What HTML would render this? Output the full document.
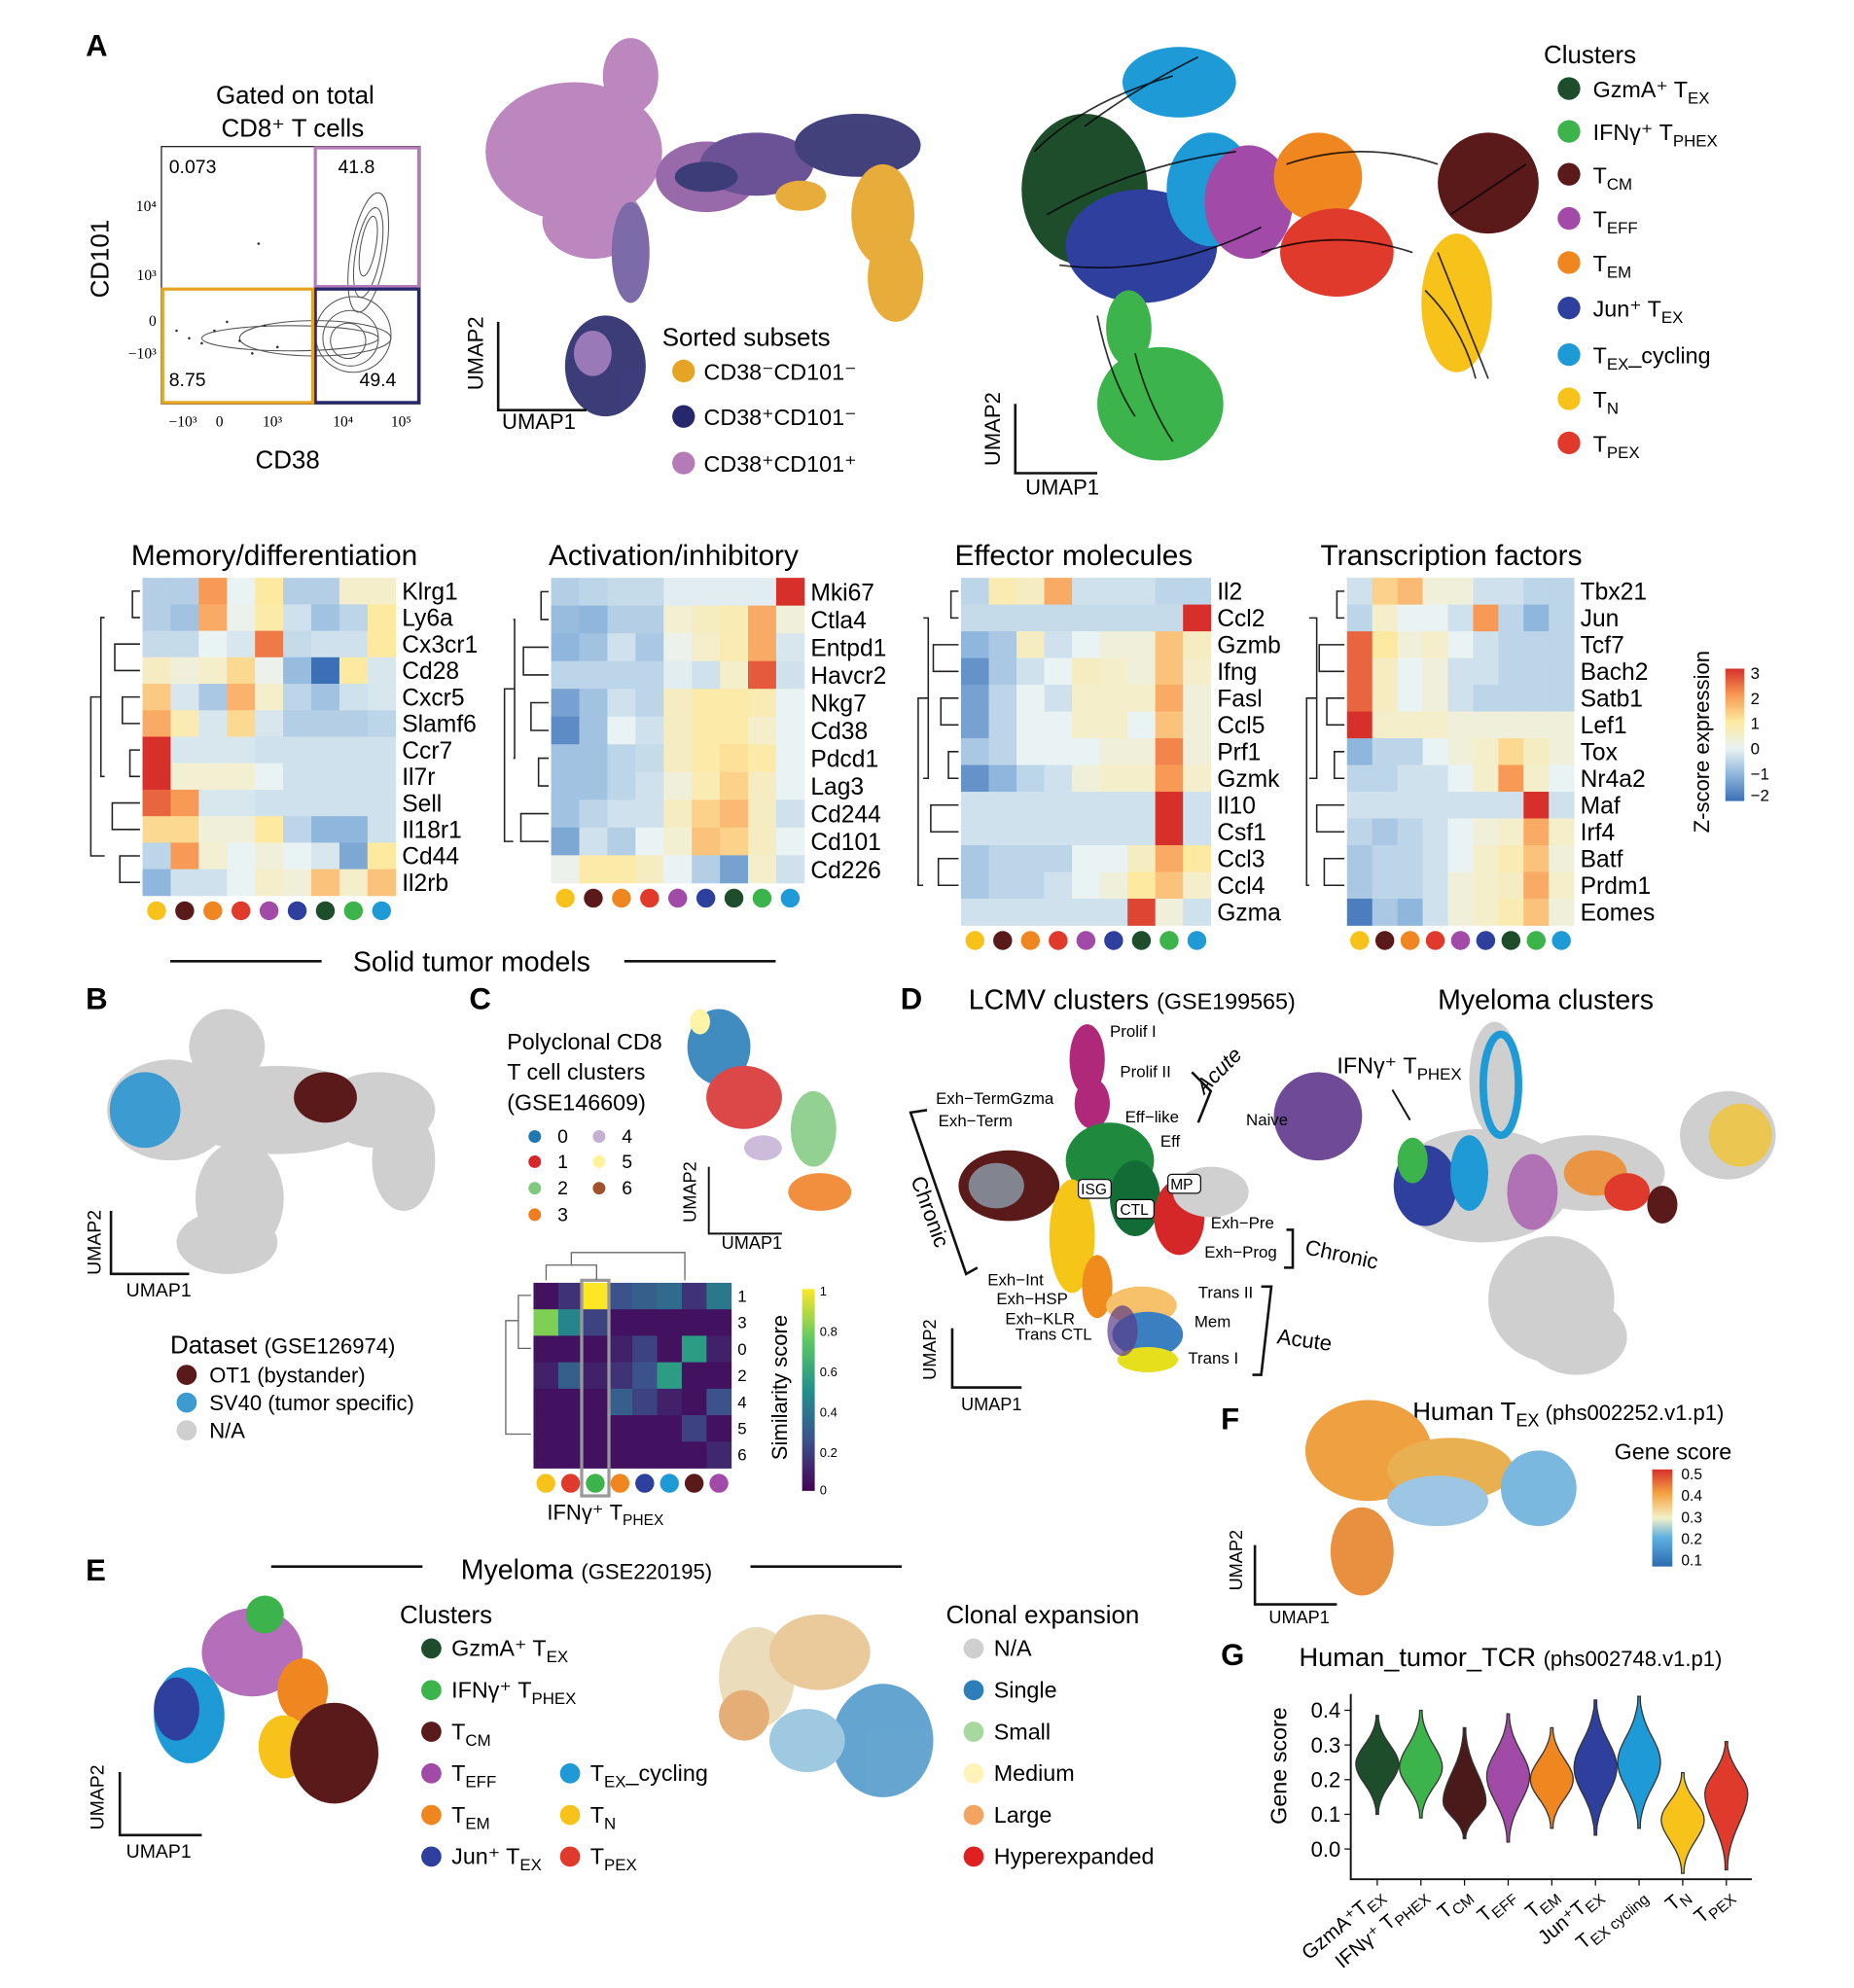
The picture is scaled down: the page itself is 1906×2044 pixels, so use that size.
<!DOCTYPE html>
<html><head><meta charset="utf-8">
<style>
html,body{margin:0;padding:0;background:#fff;}
svg{display:block;font-family:"Liberation Sans",Arial,sans-serif;}
</style></head>
<body>
<svg id="fig" width="1906" height="2044" viewBox="0 0 1470 1576" xmlns="http://www.w3.org/2000/svg">
<rect width="1470" height="1576" fill="#fff"/>

<g>
<text x="68" y="44" font-size="24" font-weight="bold">A</text>
<text x="234" y="82" font-size="20" text-anchor="middle">Gated on total</text>
<text x="232" y="108" font-size="20" text-anchor="middle">CD8⁺ T cells</text>
<rect x="128" y="116" width="205" height="204" fill="none" stroke="#222" stroke-width="1"/>
<g fill="none" stroke="#555" stroke-width="0.8">
<ellipse cx="292" cy="200" rx="14" ry="48" transform="rotate(10 292 200)"/>
<ellipse cx="292" cy="200" rx="10" ry="36" transform="rotate(10 292 200)"/>
<ellipse cx="292" cy="195" rx="6" ry="24" transform="rotate(10 292 195)"/>
<ellipse cx="280" cy="265" rx="30" ry="30"/>
<ellipse cx="278" cy="268" rx="22" ry="22"/>
<ellipse cx="276" cy="270" rx="14" ry="14"/>
<ellipse cx="250" cy="268" rx="60" ry="14"/>
<ellipse cx="230" cy="268" rx="70" ry="10"/>
</g>
<g fill="#333"><circle cx="170" cy="262" r="1"/><circle cx="190" cy="270" r="1"/><circle cx="160" cy="272" r="1"/><circle cx="210" cy="258" r="1"/><circle cx="150" cy="268" r="1"/><circle cx="200" cy="280" r="1"/><circle cx="180" cy="255" r="1"/><circle cx="220" cy="275" r="1"/><circle cx="140" cy="262" r="1"/><circle cx="205" cy="193" r="1"/></g>
<rect x="250" y="117" width="82" height="110" fill="none" stroke="#b57ab8" stroke-width="2.5"/>
<rect x="250" y="229" width="82" height="90" fill="none" stroke="#27286b" stroke-width="2.5"/>
<rect x="129" y="229" width="119" height="90" fill="none" stroke="#e6a425" stroke-width="2.5"/>
<text x="134" y="137" font-size="15">0.073</text>
<text x="268" y="137" font-size="15">41.8</text>
<text x="134" y="306" font-size="15">8.75</text>
<text x="285" y="306" font-size="15">49.4</text>
<g font-size="12" font-family="Liberation Serif,serif" text-anchor="end">
<text x="124" y="167">10⁴</text><text x="124" y="222">10³</text><text x="124" y="258">0</text><text x="124" y="284">−10³</text></g>
<g font-size="12" font-family="Liberation Serif,serif" text-anchor="middle">
<text x="145" y="338">−10³</text><text x="174" y="338">0</text><text x="216" y="338">10³</text><text x="272" y="338">10⁴</text><text x="318" y="338">10⁵</text></g>
<text x="228" y="371" font-size="20" text-anchor="middle">CD38</text>
<text transform="translate(86 205) rotate(-90)" font-size="20" text-anchor="middle">CD101</text>
</g>

<g>
<g opacity="0.9">
<ellipse cx="455" cy="120" rx="70" ry="55" fill="#b57ab8"/>
<ellipse cx="500" cy="60" rx="22" ry="30" fill="#b57ab8"/>
<ellipse cx="470" cy="175" rx="40" ry="30" fill="#b57ab8"/>
<ellipse cx="560" cy="140" rx="40" ry="28" fill="#8e5aa0"/>
<ellipse cx="600" cy="130" rx="45" ry="25" fill="#5b3f8a"/>
<ellipse cx="680" cy="115" rx="50" ry="25" fill="#2e2d6e"/>
<ellipse cx="560" cy="140" rx="25" ry="12" fill="#27286b"/>
<ellipse cx="700" cy="170" rx="25" ry="40" fill="#e6a425"/>
<ellipse cx="710" cy="220" rx="22" ry="35" fill="#e6a425"/>
<ellipse cx="635" cy="155" rx="20" ry="12" fill="#e6a425"/>
<ellipse cx="500" cy="200" rx="15" ry="40" fill="#6e5aa0"/>
<ellipse cx="480" cy="290" rx="32" ry="40" fill="#27286b"/>
<ellipse cx="470" cy="280" rx="15" ry="18" fill="#8e6bb0"/>
</g>
<path d="M395 255 V325 H465" fill="none" stroke="#111" stroke-width="2"/>
<text transform="translate(383 280) rotate(-90)" font-size="17" text-anchor="middle">UMAP2</text>
<text x="398" y="340" font-size="17">UMAP1</text>
<text x="525" y="274" font-size="20">Sorted subsets</text>
<circle cx="542" cy="294" r="9" fill="#e6a425"/><text x="558" y="301" font-size="18">CD38⁻CD101⁻</text>
<circle cx="542" cy="330" r="9" fill="#27286b"/><text x="558" y="337" font-size="18">CD38⁺CD101⁻</text>
<circle cx="542" cy="367" r="9" fill="#b57ab8"/><text x="558" y="374" font-size="18">CD38⁺CD101⁺</text>
</g>

<g>
<ellipse cx="935" cy="65" rx="45" ry="28" fill="#1e9bd7"/>
<ellipse cx="860" cy="150" rx="50" ry="60" fill="#1e4d2b"/>
<ellipse cx="905" cy="195" rx="60" ry="45" fill="#2e3f9e"/>
<ellipse cx="960" cy="150" rx="35" ry="45" fill="#1e9bd7"/>
<ellipse cx="990" cy="160" rx="35" ry="45" fill="#a24aa8"/>
<ellipse cx="1045" cy="140" rx="35" ry="35" fill="#f0861f"/>
<ellipse cx="1060" cy="200" rx="45" ry="35" fill="#e03a2c"/>
<ellipse cx="1180" cy="145" rx="40" ry="40" fill="#5a1a1a"/>
<ellipse cx="1155" cy="240" rx="28" ry="55" fill="#f7c31b"/>
<ellipse cx="920" cy="320" rx="50" ry="45" fill="#3cb44b"/>
<ellipse cx="895" cy="260" rx="18" ry="30" fill="#3cb44b"/>
<g fill="none" stroke="#000" stroke-width="1.3" opacity="0.8">
<path d="M820 120 Q860 80 930 60"/><path d="M830 170 Q900 130 980 120"/><path d="M840 210 Q920 220 1000 180"/>
<path d="M1020 130 Q1080 110 1140 130"/><path d="M1150 170 Q1180 150 1210 130"/><path d="M1140 200 Q1160 250 1180 300"/>
<path d="M1000 200 Q1060 180 1120 200"/><path d="M900 280 Q910 320 930 350"/><path d="M870 250 Q880 300 900 330"/>
<path d="M860 100 Q900 70 950 45"/><path d="M1130 230 Q1160 260 1170 300"/></g>
<path d="M805 320 V375 H870" fill="none" stroke="#111" stroke-width="2"/>
<text transform="translate(793 340) rotate(-90)" font-size="17" text-anchor="middle">UMAP2</text>
<text x="813" y="392" font-size="17">UMAP1</text>
</g>
<g font-size="18">
<text x="1224" y="50" font-size="20">Clusters</text>
<circle cx="1244" cy="70" r="9" fill="#1e4d2b"/><text x="1263" y="77">GzmA⁺ T<tspan font-size="13" dy="5">EX</tspan></text>
<circle cx="1244" cy="104" r="9" fill="#3cb44b"/><text x="1263" y="111">IFNγ⁺ T<tspan font-size="13" dy="5">PHEX</tspan></text>
<circle cx="1244" cy="138" r="9" fill="#5a1a1a"/><text x="1263" y="145">T<tspan font-size="13" dy="5">CM</tspan></text>
<circle cx="1244" cy="173" r="9" fill="#a24aa8"/><text x="1263" y="180">T<tspan font-size="13" dy="5">EFF</tspan></text>
<circle cx="1244" cy="208" r="9" fill="#f0861f"/><text x="1263" y="215">T<tspan font-size="13" dy="5">EM</tspan></text>
<circle cx="1244" cy="244" r="9" fill="#2e3f9e"/><text x="1263" y="251">Jun⁺ T<tspan font-size="13" dy="5">EX</tspan></text>
<circle cx="1244" cy="281" r="9" fill="#1e9bd7"/><text x="1263" y="288">T<tspan font-size="13" dy="5">EX</tspan><tspan dy="-5">_cycling</tspan></text>
<circle cx="1244" cy="316" r="9" fill="#f7c31b"/><text x="1263" y="323">T<tspan font-size="13" dy="5">N</tspan></text>
<circle cx="1244" cy="351" r="9" fill="#e03a2c"/><text x="1263" y="358">T<tspan font-size="13" dy="5">PEX</tspan></text>
</g>

<g id="heatmaps"></g>

<defs>
<linearGradient id="zgrad" x1="0" y1="1" x2="0" y2="0">
<stop offset="0" stop-color="#3b6fb6"/><stop offset="0.2" stop-color="#8fb6dc"/><stop offset="0.4" stop-color="#eaf3f3"/><stop offset="0.6" stop-color="#fde9a0"/><stop offset="0.8" stop-color="#f89a55"/><stop offset="1" stop-color="#d7302a"/></linearGradient>
<linearGradient id="sgrad" x1="0" y1="1" x2="0" y2="0">
<stop offset="0" stop-color="#440154"/><stop offset="0.25" stop-color="#3b528b"/><stop offset="0.5" stop-color="#21918c"/><stop offset="0.75" stop-color="#5ec962"/><stop offset="1" stop-color="#fde725"/></linearGradient>
<linearGradient id="ggrad" x1="0" y1="1" x2="0" y2="0">
<stop offset="0" stop-color="#2c6ab0"/><stop offset="0.3" stop-color="#5fb0e0"/><stop offset="0.5" stop-color="#f3f1c6"/><stop offset="0.75" stop-color="#f4a442"/><stop offset="1" stop-color="#d7302a"/></linearGradient>
</defs>
<g>
<rect x="1368" y="530" width="15" height="105" fill="url(#zgrad)"/>
<g font-size="13"><text x="1388" y="538">3</text><text x="1388" y="558">2</text><text x="1388" y="578">1</text><text x="1388" y="598">0</text><text x="1388" y="618">−1</text><text x="1388" y="635">−2</text></g>
<text transform="translate(1355 588) rotate(-90)" font-size="17" text-anchor="middle">Z-score expression</text>
</g>

<text x="374" y="770" font-size="22" text-anchor="middle">Solid tumor models</text>
<line x1="135" y1="762" x2="255" y2="762" stroke="#111" stroke-width="2"/>
<line x1="495" y1="762" x2="615" y2="762" stroke="#111" stroke-width="2"/>

<g>
<text x="68" y="800" font-size="24" font-weight="bold">B</text>
<g fill="#cfcfcf">
<ellipse cx="135" cy="880" rx="50" ry="40"/><ellipse cx="180" cy="830" rx="30" ry="30"/><ellipse cx="220" cy="880" rx="80" ry="35"/>
<ellipse cx="300" cy="880" rx="45" ry="30"/><ellipse cx="320" cy="920" rx="25" ry="40"/><ellipse cx="190" cy="950" rx="35" ry="45"/><ellipse cx="180" cy="985" rx="40" ry="25"/></g>
<ellipse cx="115" cy="880" rx="28" ry="30" fill="#3c9bd0"/>
<ellipse cx="258" cy="870" rx="25" ry="20" fill="#5a1a1a"/>
<path d="M88 960 V1010 H150" fill="none" stroke="#111" stroke-width="2"/>
<text transform="translate(80 985) rotate(-90)" font-size="15" text-anchor="middle">UMAP2</text>
<text x="100" y="1028" font-size="15">UMAP1</text>
<text x="135" y="1073" font-size="20">Dataset <tspan font-size="17">(GSE126974)</tspan></text>
<circle cx="148" cy="1090" r="8" fill="#5a1a1a"/><text x="166" y="1096" font-size="17">OT1 (bystander)</text>
<circle cx="148" cy="1112" r="8" fill="#3c9bd0"/><text x="166" y="1118" font-size="17">SV40 (tumor specific)</text>
<circle cx="148" cy="1134" r="8" fill="#cfcfcf"/><text x="166" y="1140" font-size="17">N/A</text>
</g>

<g>
<text x="372" y="800" font-size="24" font-weight="bold">C</text>
<text x="402" y="832" font-size="18">Polyclonal CD8</text>
<text x="402" y="856" font-size="18">T cell clusters</text>
<text x="402" y="880" font-size="18">(GSE146609)</text>
<g font-size="15">
<circle cx="424" cy="901" r="5" fill="#1f77b4"/><text x="442" y="906">0</text>
<circle cx="424" cy="921" r="5" fill="#d62728"/><text x="442" y="926">1</text>
<circle cx="424" cy="942" r="5" fill="#7fc97f"/><text x="442" y="947">2</text>
<circle cx="424" cy="963" r="5" fill="#f07c1e"/><text x="442" y="968">3</text>
<circle cx="475" cy="901" r="5" fill="#c5b0d5"/><text x="493" y="906">4</text>
<circle cx="475" cy="921" r="5" fill="#fff29a"/><text x="493" y="926">5</text>
<circle cx="475" cy="942" r="5" fill="#a0522d"/><text x="493" y="947">6</text></g>
<g opacity="0.85">
<ellipse cx="570" cy="830" rx="25" ry="30" fill="#1f77b4"/><ellipse cx="590" cy="870" rx="30" ry="25" fill="#d62728"/>
<ellipse cx="645" cy="895" rx="18" ry="30" fill="#7fc97f"/><ellipse cx="650" cy="945" rx="25" ry="15" fill="#f07c1e"/>
<ellipse cx="605" cy="910" rx="15" ry="10" fill="#c5b0d5"/><ellipse cx="555" cy="810" rx="8" ry="10" fill="#fff29a"/></g>
<path d="M562 925 V978 H620" fill="none" stroke="#111" stroke-width="1.5"/>
<text transform="translate(552 945) rotate(-90)" font-size="14" text-anchor="middle">UMAP2</text>
<text x="572" y="990" font-size="14">UMAP1</text>
<g id="simheat"></g>
<text x="480" y="1205" font-size="17" text-anchor="middle">IFNγ⁺ T<tspan font-size="12" dy="4">PHEX</tspan></text>
<rect x="636" y="1022" width="10" height="160" fill="url(#sgrad)"/>
<g font-size="10"><text x="650" y="1027">1</text><text x="650" y="1059">0.8</text><text x="650" y="1091">0.6</text><text x="650" y="1123">0.4</text><text x="650" y="1155">0.2</text><text x="650" y="1185">0</text></g>
<text transform="translate(624 1100) rotate(-90)" font-size="17" text-anchor="middle">Similarity score</text>
</g>

<g>
<text x="714" y="800" font-size="24" font-weight="bold">D</text>
<text x="768" y="800" font-size="22">LCMV clusters <tspan font-size="18">(GSE199565)</tspan></text>
<text x="1140" y="800" font-size="22">Myeloma clusters</text>
<ellipse cx="862" cy="840" rx="14" ry="28" fill="#b0287a"/>
<ellipse cx="866" cy="875" rx="14" ry="20" fill="#b0287a"/>
<ellipse cx="800" cy="940" rx="40" ry="28" fill="#5a1a1a"/>
<ellipse cx="790" cy="940" rx="22" ry="18" fill="#9ccde0" opacity="0.6"/>
<ellipse cx="880" cy="920" rx="35" ry="30" fill="#1f8a3e"/>
<ellipse cx="900" cy="950" rx="20" ry="30" fill="#116d35"/>
<ellipse cx="850" cy="980" rx="18" ry="45" fill="#f5c518"/>
<ellipse cx="870" cy="1020" rx="12" ry="25" fill="#f08c1e"/>
<ellipse cx="935" cy="965" rx="20" ry="30" fill="#d62728"/>
<ellipse cx="960" cy="945" rx="30" ry="20" fill="#d0d0d0"/>
<ellipse cx="1045" cy="885" rx="35" ry="35" fill="#6f4a96"/>
<ellipse cx="905" cy="1035" rx="28" ry="15" fill="#f7c06a"/>
<ellipse cx="910" cy="1058" rx="28" ry="18" fill="#3a7fbf"/>
<ellipse cx="910" cy="1078" rx="24" ry="10" fill="#e6e01c"/>
<ellipse cx="890" cy="1055" rx="12" ry="20" fill="#5a3a8a" opacity="0.7"/>
<g font-size="13">
<text x="880" y="822">Prolif I</text><text x="888" y="854">Prolif II</text>
<text x="742" y="875">Exh−TermGzma</text><text x="744" y="893">Exh−Term</text>
<text x="892" y="890">Eff−like</text><text x="920" y="909">Eff</text><text x="988" y="892">Naive</text>
<text x="960" y="974">Exh−Pre</text><text x="955" y="997">Exh−Prog</text>
<text x="783" y="1019">Exh−Int</text><text x="790" y="1034">Exh−HSP</text><text x="797" y="1050">Exh−KLR</text>
<text x="950" y="1029">Trans II</text><text x="947" y="1052">Mem</text><text x="805" y="1062">Trans CTL</text><text x="942" y="1081">Trans I</text>
</g>
<g font-size="12" fill="#fff" stroke="#111">
<rect x="855" y="935" width="26" height="15" rx="3"/><rect x="885" y="951" width="30" height="15" rx="3"/><rect x="926" y="931" width="26" height="15" rx="3"/></g>
<g font-size="12"><text x="857" y="947">ISG</text><text x="888" y="963">CTL</text><text x="928" y="943">MP</text></g>
<text transform="translate(955 868) rotate(-45)" font-size="17" font-style="italic">Acute</text>
<text transform="translate(722 935) rotate(70)" font-size="17">Chronic</text>
<text transform="translate(1034 994) rotate(12)" font-size="17">Chronic</text>
<text transform="translate(1012 1065) rotate(8)" font-size="17">Acute</text>
<g fill="none" stroke="#111" stroke-width="2">
<path d="M945 850 L960 865 L950 890"/><path d="M735 880 L722 882 L766 1010 L775 1005"/>
<path d="M1020 975 H1025 V1005 H1018"/><path d="M1000 1020 H1008 L1000 1090 H993"/>
<path d="M755 1053 V1100 H810"/></g>
<text transform="translate(742 1070) rotate(-90)" font-size="14" text-anchor="middle">UMAP2</text>
<text x="762" y="1118" font-size="14">UMAP1</text>
<g fill="#cfcfcf">
<ellipse cx="1185" cy="855" rx="20" ry="45"/><ellipse cx="1175" cy="940" rx="70" ry="45"/><ellipse cx="1260" cy="930" rx="60" ry="30"/>
<ellipse cx="1370" cy="900" rx="38" ry="35"/><ellipse cx="1230" cy="1030" rx="50" ry="50"/><ellipse cx="1250" cy="1060" rx="40" ry="30"/></g>
<ellipse cx="1190" cy="860" rx="14" ry="40" fill="none" stroke="#1e9bd7" stroke-width="6"/>
<ellipse cx="1130" cy="940" rx="25" ry="32" fill="#2e3f9e"/>
<ellipse cx="1120" cy="920" rx="12" ry="18" fill="#3cb44b"/>
<ellipse cx="1165" cy="930" rx="15" ry="30" fill="#1e9bd7"/>
<ellipse cx="1215" cy="945" rx="20" ry="30" fill="#a24aa8" opacity="0.7"/>
<ellipse cx="1265" cy="930" rx="25" ry="18" fill="#f0861f" opacity="0.8"/>
<ellipse cx="1290" cy="945" rx="18" ry="15" fill="#e03a2c"/>
<ellipse cx="1318" cy="955" rx="12" ry="15" fill="#5a1a1a"/>
<ellipse cx="1380" cy="900" rx="25" ry="25" fill="#f7c31b" opacity="0.7"/>
<text x="1060" y="851" font-size="18">IFNγ⁺ T<tspan font-size="13" dy="5">PHEX</tspan></text>
<line x1="1104" y1="864" x2="1118" y2="888" stroke="#111" stroke-width="1.5"/>
</g>

<g>
<text x="68" y="1253" font-size="24" font-weight="bold">E</text>
<text x="465" y="1252" font-size="22" text-anchor="middle">Myeloma <tspan font-size="17">(GSE220195)</tspan></text>
<line x1="215" y1="1242" x2="335" y2="1242" stroke="#111" stroke-width="2"/>
<line x1="595" y1="1242" x2="715" y2="1242" stroke="#111" stroke-width="2"/>
<ellipse cx="150" cy="1360" rx="28" ry="38" fill="#1e9bd7"/>
<ellipse cx="140" cy="1355" rx="18" ry="25" fill="#2e3f9e"/>
<ellipse cx="200" cy="1310" rx="40" ry="35" fill="#a24aa8" opacity="0.8"/>
<ellipse cx="210" cy="1280" rx="15" ry="15" fill="#3cb44b"/>
<ellipse cx="240" cy="1340" rx="20" ry="25" fill="#f0861f"/>
<ellipse cx="225" cy="1385" rx="20" ry="25" fill="#f7c31b"/>
<ellipse cx="265" cy="1390" rx="35" ry="40" fill="#5a1a1a"/>
<path d="M95 1405 V1455 H160" fill="none" stroke="#111" stroke-width="2"/>
<text transform="translate(82 1425) rotate(-90)" font-size="15" text-anchor="middle">UMAP2</text>
<text x="100" y="1473" font-size="15">UMAP1</text>
<g font-size="18">
<text x="317" y="1287" font-size="20">Clusters</text>
<circle cx="342" cy="1307" r="8" fill="#1e4d2b"/><text x="358" y="1313">GzmA⁺ T<tspan font-size="13" dy="5">EX</tspan></text>
<circle cx="342" cy="1340" r="8" fill="#3cb44b"/><text x="358" y="1346">IFNγ⁺ T<tspan font-size="13" dy="5">PHEX</tspan></text>
<circle cx="342" cy="1373" r="8" fill="#5a1a1a"/><text x="358" y="1379">T<tspan font-size="13" dy="5">CM</tspan></text>
<circle cx="342" cy="1406" r="8" fill="#a24aa8"/><text x="358" y="1412">T<tspan font-size="13" dy="5">EFF</tspan></text>
<circle cx="342" cy="1439" r="8" fill="#f0861f"/><text x="358" y="1445">T<tspan font-size="13" dy="5">EM</tspan></text>
<circle cx="342" cy="1472" r="8" fill="#2e3f9e"/><text x="358" y="1478">Jun⁺ T<tspan font-size="13" dy="5">EX</tspan></text>
<circle cx="452" cy="1406" r="8" fill="#1e9bd7"/><text x="468" y="1412">T<tspan font-size="13" dy="5">EX</tspan><tspan dy="-5">_cycling</tspan></text>
<circle cx="452" cy="1439" r="8" fill="#f7c31b"/><text x="468" y="1445">T<tspan font-size="13" dy="5">N</tspan></text>
<circle cx="452" cy="1472" r="8" fill="#e03a2c"/><text x="468" y="1478">T<tspan font-size="13" dy="5">PEX</tspan></text>
</g>
<g opacity="0.85">
<ellipse cx="600" cy="1330" rx="30" ry="40" fill="#e8d8b0"/><ellipse cx="650" cy="1310" rx="40" ry="30" fill="#e7c08a"/>
<ellipse cx="700" cy="1380" rx="40" ry="45" fill="#4a95c8"/><ellipse cx="640" cy="1380" rx="30" ry="25" fill="#8ec0dc"/>
<ellipse cx="590" cy="1360" rx="20" ry="20" fill="#e2a060"/></g>
<g font-size="18">
<text x="750" y="1287" font-size="20">Clonal expansion</text>
<circle cx="772" cy="1307" r="8" fill="#cfcfcf"/><text x="788" y="1313">N/A</text>
<circle cx="772" cy="1340" r="8" fill="#2c7fb8"/><text x="788" y="1346">Single</text>
<circle cx="772" cy="1373" r="8" fill="#a6d8a0"/><text x="788" y="1379">Small</text>
<circle cx="772" cy="1406" r="8" fill="#fff3b8"/><text x="788" y="1412">Medium</text>
<circle cx="772" cy="1439" r="8" fill="#f4a460"/><text x="788" y="1445">Large</text>
<circle cx="772" cy="1472" r="8" fill="#e02020"/><text x="788" y="1478">Hyperexpanded</text>
</g>
</g>

<g>
<text x="968" y="1133" font-size="24" font-weight="bold">F</text>
<text x="1120" y="1126" font-size="20">Human T<tspan font-size="14" dy="5">EX</tspan><tspan dy="-5" font-size="17"> (phs002252.v1.p1)</tspan></text>
<ellipse cx="1085" cy="1150" rx="50" ry="40" fill="#efa040"/>
<ellipse cx="1150" cy="1165" rx="50" ry="25" fill="#e8b050"/>
<ellipse cx="1220" cy="1180" rx="30" ry="30" fill="#7ab8e0"/>
<ellipse cx="1140" cy="1190" rx="40" ry="20" fill="#9cc6e4"/>
<ellipse cx="1080" cy="1230" rx="25" ry="35" fill="#e89040"/>
<text x="1280" y="1157" font-size="18">Gene score</text>
<rect x="1310" y="1165" width="16" height="77" fill="url(#ggrad)"/>
<g font-size="12"><text x="1333" y="1173">0.5</text><text x="1333" y="1190">0.4</text><text x="1333" y="1207">0.3</text><text x="1333" y="1224">0.2</text><text x="1333" y="1241">0.1</text></g>
<path d="M995 1225 V1272 H1060" fill="none" stroke="#111" stroke-width="2"/>
<text transform="translate(985 1237) rotate(-90)" font-size="14" text-anchor="middle">UMAP2</text>
<text x="1006" y="1287" font-size="14">UMAP1</text>
</g>

<g id="violin">
<text x="968" y="1320" font-size="24" font-weight="bold">G</text>
<text x="1030" y="1321" font-size="21">Human_tumor_TCR <tspan font-size="17">(phs002748.v1.p1)</tspan></text>
<text transform="translate(1020 1400) rotate(-90)" font-size="18" text-anchor="middle">Gene score</text>
</g>
</svg>

<script>
const colColors=["#f7c31b","#5a1a1a","#f0861f","#e03a2c","#a24aa8","#2e3f9e","#1e4d2b","#3cb44b","#1e9bd7"];
const memGenes=["Klrg1","Ly6a","Cx3cr1","Cd28","Cxcr5","Slamf6","Ccr7","Il7r","Sell","Il18r1","Cd44","Il2rb"];
const memVals=[[-0.6,-0.6,2,0,1,-0.6,-0.6,0.5,0.5],[-0.6,-0.8,1.8,0.1,0.9,-0.3,-0.8,-0.5,1],[-0.4,-0.4,0,-0.2,2.3,-0.4,-0.3,-0.3,1],[0.6,0.3,0.5,1.2,0.1,-0.9,-2,1,-0.2],[1.4,-0.2,-0.7,1.7,0.5,-0.5,-0.8,-0.3,-0.2],[1.8,0.8,-0.2,1.2,-0.2,-0.6,-0.6,-0.6,-0.5],[3,-0.2,-0.2,-0.2,-0.3,-0.3,-0.3,-0.3,-0.3],[3,0.4,0.4,0.4,0,-0.3,-0.3,-0.3,-0.3],[2.5,2,-0.2,-0.2,-0.3,-0.3,-0.3,-0.3,-0.3],[1.2,1.2,0.3,0.3,1,-0.5,-1,-1,-0.3],[-0.5,2,0.4,0,0.3,0,-0.2,-1.2,1],[-1,-0.3,-0.3,0,0.5,0.3,1.5,0.5,1.5]];
const actGenes=["Mki67","Ctla4","Entpd1","Havcr2","Nkg7","Cd38","Pdcd1","Lag3","Cd244","Cd101","Cd226"];
const actVals=[[-0.6,-0.5,-0.4,-0.4,-0.1,-0.1,-0.1,-0.1,3],[-0.9,-1,-0.6,-0.6,0.4,0.6,0.8,1.8,0.3],[-1,-0.8,-0.3,-0.7,0.1,0.5,0.8,1.8,-0.2],[-0.5,-0.5,-0.5,-0.5,-0.1,-0.3,0.5,2.6,-0.3],[-1.3,-0.8,-0.3,-0.5,0.6,0.9,0.9,0.8,0],[-1.6,-0.8,0,-0.3,0.6,0.9,0.9,0.5,0],[-0.8,-0.8,-0.5,-0.4,0.6,0.9,1.1,0.9,0],[-0.8,-0.8,-0.5,-0.3,0.3,0.8,1.3,0.6,0],[-0.8,-0.5,-0.3,-0.3,0.6,1.3,1.6,0.6,-0.3],[-1.2,-0.3,-0.6,0,0.4,1.5,1.3,0.6,0],[0.1,0.9,0.9,0.6,0,-0.6,-1.3,0.5,-0.3]];
const effGenes=["Il2","Ccl2","Gzmb","Ifng","Fasl","Ccl5","Prf1","Gzmk","Il10","Csf1","Ccl3","Ccl4","Gzma"];
const effVals=[[-0.5,0.8,0.6,1.8,-0.3,-0.3,-0.3,-0.5,-0.5],[-0.4,-0.4,-0.4,-0.4,-0.4,-0.4,-0.4,-0.4,3],[-1,-0.7,0.6,-0.3,0,0.3,0.3,1.5,0.6],[-1.5,-0.7,-0.3,0,0.6,0.5,0.3,1.5,0.5],[-1.3,-0.5,0,-0.3,0.5,0.5,0.5,1.8,0.3],[-1.3,-0.5,0,0,0.5,0.5,0,1.5,0.3],[-0.7,-0.5,0,0,0,0.3,0.3,2.2,0.3],[-1.5,-1,-0.5,-0.3,0.3,0.5,0.5,2,0.5],[-0.3,-0.3,-0.3,-0.3,-0.3,-0.3,-0.3,3,-0.3],[-0.3,-0.3,-0.3,-0.3,-0.3,-0.3,-0.3,3,-0.3],[-0.7,-0.5,-0.5,-0.5,0,0,0.6,1.8,1],[-0.7,-0.5,-0.5,-0.3,0,0.3,1,1.5,0.5],[-0.3,-0.3,-0.3,-0.3,-0.3,-0.3,2.8,0.3,-0.3]];
const tfGenes=["Tbx21","Jun","Tcf7","Bach2","Satb1","Lef1","Tox","Nr4a2","Maf","Irf4","Batf","Prdm1","Eomes"];
const tfVals=[[-0.3,1.3,1.6,0.3,0.3,-0.3,-0.3,-0.5,-0.5],[-0.5,0.5,0,0,-0.3,2,-0.5,-1,-0.5],[2.5,1,0.3,0.5,0,-0.3,-0.5,-0.5,-0.5],[2.5,0.6,0,0.3,-0.3,-0.3,-0.5,-0.5,-0.5],[2.5,0.6,0,0.3,-0.3,-0.5,-0.5,-0.5,-0.5],[3,0.5,0.5,0.5,0.3,0.3,0.3,0.3,0.3],[-1,-0.5,-0.5,0,0.3,0.5,1.2,0.6,0.3],[-0.5,-0.5,-0.3,-0.3,0,0.5,2,0.5,0],[-0.3,-0.3,-0.3,-0.3,-0.3,-0.3,-0.3,3,-0.3],[-0.5,-0.7,-0.5,-0.3,0,0.3,0.5,1.8,0.5],[-0.7,-0.5,-0.5,-0.3,0,0.5,0.8,1.5,0.3],[-0.7,-0.5,-0.5,-0.3,0.3,0.5,0.6,1.8,0.5],[-1.8,-0.7,-1,-0.3,0.3,0.5,0.8,1.5,0.3]];
const simRows=["1","3","0","2","4","5","6"];
const simColColors=["#f7c31b","#e03a2c","#3cb44b","#f0861f","#2e3f9e","#1e9bd7","#5a1a1a","#a24aa8"];
const simVals=[[0.05,0.15,1,0.25,0.3,0.35,0.15,0.4],[0.8,0.45,0.2,0.05,0.05,0.05,0.05,0.05],[0.05,0.05,0.05,0.1,0.2,0.05,0.55,0.1],[0.1,0.3,0.1,0.15,0.25,0.55,0.05,0.05],[0.05,0.05,0.05,0.3,0.2,0.1,0.05,0.25],[0.05,0.05,0.05,0.05,0.05,0.05,0.2,0.05],[0.05,0.05,0.05,0.05,0.05,0.05,0.05,0.12]];
const vioLabels=["GzmA⁺T|EX","IFNγ⁺ T|PHEX","T|CM","T|EFF","T|EM","Jun⁺T|EX","T|EX cycling","T|N","T|PEX"];
const vioColors=["#1e4d2b","#3cb44b","#4a1a1a","#a24aa8","#f0861f","#2e3f9e","#1e9bd7","#f7c31b","#e03a2c"];
const vioMedian=[0.245,0.235,0.135,0.21,0.2,0.235,0.25,0.085,0.16];
const vioMin=[0.1,0.09,0.03,0.02,0.06,0.04,0.06,-0.07,-0.06];
const vioMax=[0.385,0.4,0.35,0.39,0.35,0.43,0.44,0.22,0.31];
const vioTicks=[0,0.1,0.2,0.3,0.4];

const NS="http://www.w3.org/2000/svg";
function mk(tag,attrs,parent){const e=document.createElementNS(NS,tag);for(const k in attrs)e.setAttribute(k,attrs[k]);parent.appendChild(e);return e;}
const zstops=[[-2,[59,111,182]],[-1,[143,182,220]],[0,[234,243,243]],[1,[253,233,160]],[2,[248,154,85]],[3,[215,48,42]]];
function zcol(v){v=Math.max(-2,Math.min(3,v));for(let i=0;i<zstops.length-1;i++){const a=zstops[i],b=zstops[i+1];if(v<=b[0]){const t=(v-a[0])/(b[0]-a[0]);return "rgb("+a[1].map((c,j)=>Math.round(c+(b[1][j]-c)*t)).join(",")+")";}}return "rgb(215,48,42)";}
const vstops=[[68,1,84],[59,82,139],[33,145,140],[94,201,98],[253,231,37]];
function vcol(v){v=Math.max(0,Math.min(1,v))*4;const i=Math.min(3,Math.floor(v)),t=v-i,a=vstops[i],b=vstops[i+1];return "rgb("+a.map((c,j)=>Math.round(c+(b[j]-c)*t)).join(",")+")";}

const hg=document.getElementById('heatmaps');
function heat(title,tx,x0,y0,cw,rh,genes,vals,dendX){
  const g=mk('g',{},hg);
  
  
  const tt=mk('text',{x:tx,y:448,'font-size':23},g);tt.textContent=title;
  genes.forEach((gn,r)=>{
    vals[r].forEach((v,c)=>{
      const cell=mk('rect',{x:x0+c*cw,y:y0+r*rh,width:cw+0.3,height:rh+0.3,fill:zcol(v)},g);
      
      
    });
    const lb=mk('text',{x:x0+9*cw+5,y:y0+r*rh+rh*0.82,'font-size':19},g);lb.textContent=gn;
  });
  colColors.forEach((c,i)=>{mk('circle',{cx:x0+i*cw+cw/2,cy:y0+genes.length*rh+12,r:7.5,fill:c},g);});
  const n=genes.length, yc=r=>y0+r*rh+rh/2;
  const dg=mk('g',{fill:'none',stroke:'#222','stroke-width':1.2},g);
  for(let r=0;r<n-1;r+=2){const xm=x0-8-((r*7)%20);mk('path',{d:`M${x0-2} ${yc(r)} H${xm} V${yc(r+1)} H${x0-2}`},dg);}
  const half=Math.floor(n/2);
  mk('path',{d:`M${x0-30} ${yc(1)} H${dendX+8} V${yc(half+1)} H${x0-30}`},dg);
  mk('path',{d:`M${dendX+8} ${(yc(1)+yc(half+1))/2} H${dendX} V${yc(n-2)} H${x0-30}`},dg);
}
heat("Memory/differentiation",104,113,458,22.3,21,memGenes,memVals,72);
heat("Activation/inhibitory",435,437,458,22.3,22,actGenes,actVals,400);
heat("Effector molecules",757,762,458,22,21.2,effGenes,effVals,728);
heat("Transcription factors",1047,1068,458,20,21.2,tfGenes,tfVals,1036);

const sg=document.getElementById('simheat');
const sx0=423,sy0=1017,scw=19.6,srh=21;
simRows.forEach((rn,r)=>{
  simVals[r].forEach((v,c)=>{
    const cell=mk('rect',{x:sx0+c*scw,y:sy0+r*srh,width:scw+0.3,height:srh+0.3,fill:vcol(v)},sg);
    
    
  });
  const tt=mk('text',{x:sx0+8*scw+5,y:sy0+r*srh+15,'font-size':13},sg);tt.textContent=rn;
});
simColColors.forEach((c,i)=>mk('circle',{cx:sx0+i*scw+scw/2,cy:sy0+7*srh+12,r:7.5,fill:c},sg));
mk('rect',{x:sx0+2*scw-1,y:sy0-2,width:scw+2,height:7*srh+24,fill:'none',stroke:'#999','stroke-width':2.5},sg);
const sd=mk('g',{fill:'none',stroke:'#666','stroke-width':1},sg);
mk('path',{d:`M${sx0-2} ${sy0+10} H${sx0-12} V${sy0+52} H${sx0-2} M${sx0-12} ${sy0+30} H${sx0-22} V${sy0+120} H${sx0-2} M${sx0+10} ${sy0-2} V${sy0-14} H${sx0+50} V${sy0-2} M${sx0+30} ${sy0-14} V${sy0-24} H${sx0+120} V${sy0-2}`},sd);

const vg=document.getElementById('violin');
const ax0=1071,ax1=1389,ay0=1490;
const yS=v=>1466-v*275;
const xS=i=>1092+i*34.6;
mk('path',{d:`M${ax0} 1343 V${ay0} H${ax1}`,fill:'none',stroke:'#111','stroke-width':1.5},vg);
vioTicks.forEach(t=>{mk('line',{x1:ax0-5,x2:ax0,y1:yS(t),y2:yS(t),stroke:'#111'},vg);const tt=mk('text',{x:ax0-8,y:yS(t)+6,'font-size':17,'text-anchor':'end'},vg);tt.textContent=t.toFixed(1);});
vioLabels.forEach((lab,i)=>{
  const cx=xS(i),m=vioMedian[i],lo=vioMin[i],hi=vioMax[i];
  const pts=[];const N=30;
  for(let k=0;k<=N;k++){const v=lo+(hi-lo)*k/N;const s=(v<m?(m-lo)/2.6:(hi-m)/2.6);const w=Math.max(1,17*Math.exp(-0.5*((v-m)/s)**2));pts.push([v,w]);}
  let d=pts.map((p,k)=>(k?'L':'M')+(cx+p[1]).toFixed(1)+' '+yS(p[0]).toFixed(1)).join(' ');
  d+=' '+pts.slice().reverse().map(p=>'L'+(cx-p[1]).toFixed(1)+' '+yS(p[0]).toFixed(1)).join(' ')+'Z';
  const vp=mk('path',{d:d,fill:vioColors[i],stroke:'#333','stroke-width':1},vg);
  
  
  mk('line',{x1:cx,x2:cx,y1:ay0,y2:ay0+5,stroke:'#111'},vg);
  const parts=lab.split('|');
  const tx=mk('text',{transform:`translate(${cx+6} ${ay0+14}) rotate(-40)`,'font-size':16,'text-anchor':'end'},vg);
  const t1=mk('tspan',{},tx);t1.textContent=parts[0];
  const t2=mk('tspan',{'font-size':12,dy:4},tx);t2.textContent=parts[1];
});
</script>
</body></html>
